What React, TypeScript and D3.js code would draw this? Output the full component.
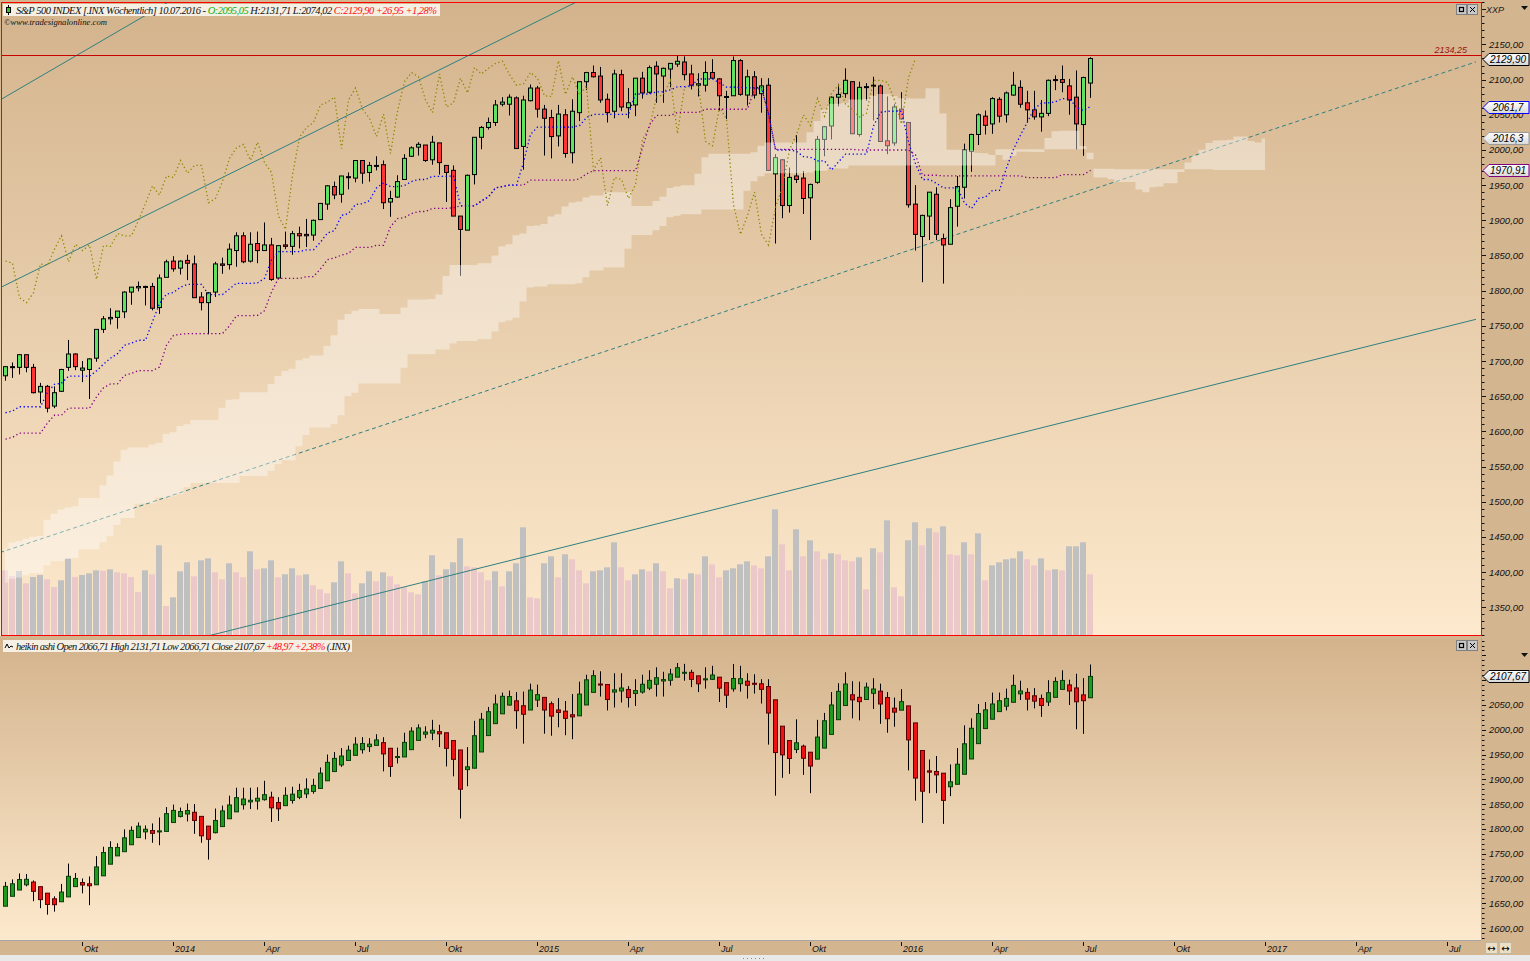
import React, { useMemo } from 'react';
import * as d3 from 'd3';

// weekly bars, bar 0 = week ending Sun 21.07.2013
const FIRST_WEEK = new Date(2013, 6, 21);

const opens = [
  1679, 1692, 1691, 1709, 1691, 1656, 1664, 1636, 1657, 1691, 1710, 1687, 1688, 1704, 1745, 1760, 1762, 1770, 1798, 1804,
  1806, 1806, 1776, 1819, 1842, 1832, 1843, 1838, 1791, 1783, 1798, 1838, 1837, 1857, 1878, 1842, 1867, 1857, 1865, 1818,
  1865, 1863, 1881, 1880, 1879, 1901, 1923, 1948, 1937, 1962, 1960, 1985, 1968, 1978, 1979, 1926, 1933, 1958, 1991, 2004,
  2007, 1986, 2010, 1978, 1971, 1906, 1886, 1965, 2018, 2032, 2039, 2065, 2065, 2074, 2005, 2070, 2088, 2058, 2046, 2020,
  2050, 1996, 2053, 2097, 2110, 2105, 2072, 2055, 2107, 2060, 2064, 2102, 2082, 2119, 2105, 2115, 2122, 2125, 2108, 2092,
  2092, 2110, 2101, 2075, 2077, 2127, 2078, 2104, 2080, 2092, 1966, 1986, 1921, 1963, 1960, 1932, 1954, 2015, 2034, 2075,
  2080, 2097, 2022, 2089, 2091, 2091, 2013, 2010, 2058, 2039, 1923, 1877, 1906, 1937, 1874, 1866, 1920, 1947, 1998, 2022,
  2048, 2037, 2072, 2050, 2078, 2089, 2067, 2057, 2047, 2052, 2100, 2100, 2091, 2075, 2036.09, 2095.05,
];
const highs = [
  1693, 1698, 1710, 1709, 1696, 1669, 1666, 1664, 1689, 1730, 1711, 1700, 1704, 1745, 1764, 1775, 1771, 1799, 1805, 1813,
  1807, 1811, 1823, 1844, 1849, 1843, 1851, 1850, 1798, 1798, 1841, 1847, 1867, 1883, 1883, 1883, 1884, 1897, 1875, 1864,
  1884, 1885, 1891, 1902, 1901, 1924, 1950, 1955, 1963, 1968, 1985, 1985, 1983, 1991, 1985, 1942, 1964, 1994, 2005, 2011,
  2007, 2020, 2010, 1978, 1978, 1906, 1965, 2018, 2034, 2046, 2071, 2075, 2079, 2076, 2077, 2093, 2091, 2064, 2057, 2064,
  2058, 2072, 2097, 2111, 2120, 2118, 2080, 2114, 2114, 2088, 2102, 2111, 2120, 2126, 2117, 2123, 2134.7, 2133, 2121, 2109,
  2126, 2129, 2102, 2084, 2132.8, 2129, 2114, 2112, 2102, 2102, 1994, 1987, 1975, 2021, 1970, 1952, 2020, 2034, 2076, 2094,
  2116, 2098, 2097, 2095, 2104, 2093, 2076, 2065, 2082, 2039, 1950, 1908, 1940, 1947, 1881, 1930, 1963, 2009, 2023, 2052,
  2056, 2075, 2075, 2083, 2111, 2099, 2084, 2084, 2071, 2100, 2106, 2120, 2101, 2113, 2104.08, 2131.71,
];
const lows = [
  1672, 1676, 1681, 1684, 1654, 1640, 1627, 1633, 1656, 1686, 1687, 1670, 1646, 1699, 1740, 1752, 1746, 1761, 1780, 1799,
  1779, 1772, 1767, 1819, 1827, 1823, 1815, 1790, 1772, 1738, 1791, 1824, 1830, 1834, 1839, 1840, 1839, 1857, 1814, 1816,
  1859, 1851, 1860, 1862, 1871, 1901, 1915, 1930, 1925, 1944, 1954, 1952, 1955, 1971, 1916, 1905, 1932, 1958, 1990, 1992,
  1983, 1979, 1965, 1926, 1906, 1821, 1886, 1951, 2001, 2029, 2034, 2062, 2049, 2002, 1972, 2069, 2046, 1992, 1988, 2005,
  1989, 1981, 2041, 2085, 2103, 2067, 2039, 2045, 2055, 2045, 2048, 2073, 2080, 2067, 2067, 2089, 2118, 2099, 2086, 2076,
  2083, 2101, 2056, 2044, 2077, 2077, 2063, 2073, 2053, 1970, 1867, 1903, 1911, 1953, 1909, 1872, 1952, 1991, 2015, 2062,
  2074, 2023, 2019, 2070, 2042, 2012, 1994, 2006, 2043, 1918, 1857, 1812, 1872, 1872, 1810.1, 1866, 1891, 1931, 1969, 2007,
  2022, 2023, 2039, 2039, 2077, 2060, 2039, 2043, 2026, 2048, 2085, 2082, 2050, 2001, 1991.68, 2074.02,
];
const closes = [
  1692, 1691, 1709, 1691, 1655, 1664, 1633, 1655, 1688, 1710, 1692, 1690, 1703, 1745, 1760, 1762, 1771, 1798, 1805, 1806,
  1805, 1775, 1818, 1841, 1831, 1842, 1839, 1790, 1783, 1797, 1838, 1836, 1859, 1878, 1841, 1866, 1857, 1865, 1816, 1864,
  1863, 1881, 1878, 1878, 1900, 1924, 1949, 1936, 1963, 1961, 1985, 1967, 1978, 1978, 1925, 1931, 1955, 1988, 2003, 2008,
  1985, 2011, 1982, 1968, 1906, 1887, 1964, 2018, 2032, 2039, 2064, 2068, 2075, 2002, 2071, 2088, 2058, 2045, 2019, 2051,
  1995, 2055, 2097, 2110, 2104, 2071, 2053, 2108, 2061, 2067, 2102, 2081, 2117, 2108, 2116, 2123, 2126, 2107, 2092, 2094,
  2110, 2102, 2077, 2076, 2127, 2079, 2104, 2078, 2091, 1971, 1989, 1921, 1961, 1958, 1931, 1951, 2015, 2033, 2075, 2079,
  2099, 2023, 2089, 2090, 2092, 2012, 2006, 2061, 2044, 1922, 1880, 1907, 1940, 1880, 1865, 1918, 1948, 2000, 2022, 2050,
  2035, 2073, 2048, 2081, 2092, 2065, 2057, 2047, 2052, 2099, 2099, 2096, 2071, 2037, 2102.95, 2129.9,
];
// weekly volume, bn shares
const volumes = [
  12.94, 11.8, 12.8, 10.34, 11.6, 12.0, 11.14, 9.6, 10.94, 15.34, 11.6, 12.0, 12.34, 12.94, 12.86, 13.14, 12.54, 12.34, 11.6, 8.6,
  12.94, 12.14, 17.94, 5.8, 7.54, 12.74, 14.54, 11.74, 14.94, 15.34, 12.54, 11.14, 14.34, 12.54, 11.54, 16.74, 13.14, 13.34, 14.94, 11.54,
  12.14, 13.34, 11.94, 12.14, 9.94, 9.14, 8.34, 10.54, 14.74, 12.34, 8.34, 10.34, 12.74, 10.74, 12.54, 11.74, 10.14, 9.54, 8.54, 8.14,
  10.74, 15.94, 11.94, 13.14, 14.54, 19.34, 13.74, 13.54, 12.54, 10.94, 12.74, 9.74, 12.74, 14.34, 21.54, 7.54, 7.34, 14.34, 15.74, 11.54,
  16.14, 15.14, 12.94, 10.34, 12.74, 12.94, 13.54, 18.54, 13.54, 10.94, 12.14, 13.14, 12.74, 14.34, 12.74, 9.34, 11.34, 11.14, 12.34, 12.14,
  15.74, 14.14, 11.54, 12.94, 13.34, 14.14, 14.74, 13.94, 13.34, 15.74, 25.14, 18.14, 12.94, 21.14, 15.74, 18.94, 16.74, 15.14, 16.34, 16.14,
  14.94, 14.74, 15.54, 9.14, 17.34, 16.54, 22.94, 9.54, 7.74, 18.94, 22.54, 17.94, 21.34, 20.54, 21.74, 16.14, 15.94, 18.54, 16.14, 20.34,
  10.94, 13.94, 14.54, 15.14, 15.34, 16.74, 15.14, 13.94, 15.34, 12.94, 13.14, 12.94, 17.74, 17.74, 18.54, 12.14,
];
// 78 earlier weeks (20.01.2012 - 12.07.2013), only for the Ichimoku windows
const priorHighs = [
  1315, 1333, 1345, 1354, 1363, 1368, 1378, 1375, 1405, 1414, 1419, 1422, 1398, 1391, 1406, 1415, 1370, 1355, 1328, 1335,
  1335, 1343, 1364, 1363, 1374, 1357, 1380, 1391, 1394, 1406, 1418, 1426, 1413, 1438, 1474, 1465, 1456, 1470, 1464, 1464,
  1435, 1434, 1433, 1389, 1409, 1419, 1423, 1438, 1448, 1430, 1467, 1472, 1485, 1503, 1514, 1518, 1524, 1530, 1525, 1552,
  1564, 1558, 1570, 1573, 1597, 1593, 1585, 1618, 1635, 1667, 1687, 1674, 1646, 1654, 1654, 1620, 1632, 1680,
];
const priorLows = [
  1290, 1306, 1300, 1337, 1340, 1352, 1354, 1340, 1370, 1388, 1391, 1397, 1357, 1365, 1358, 1367, 1344, 1291, 1295, 1277,
  1267, 1307, 1324, 1309, 1348, 1325, 1345, 1329, 1354, 1390, 1400, 1397, 1397, 1404, 1429, 1455, 1430, 1440, 1425, 1426,
  1403, 1410, 1376, 1343, 1359, 1385, 1398, 1412, 1420, 1398, 1402, 1451, 1461, 1485, 1495, 1495, 1506, 1497, 1485, 1514,
  1550, 1538, 1547, 1539, 1548, 1536, 1553, 1576, 1606, 1625, 1635, 1630, 1598, 1604, 1577, 1560, 1601, 1624,
];

const upperLabels = d3.range(1350, 2151, 50);
const lowerLabels = d3.range(1600, 2051, 50);
const quarterNames: Record<number, string> = { 3: 'Apr', 6: 'Jul', 9: 'Okt' };

const headerParts: [string, string][] = [
  ['S&P 500 INDEX [.INX Wöchentlich] 10.07.2016 - ', '#111'],
  ['O:2095,05', '#10b010'],
  [' H:2131,71 L:2074,02 ', '#111'],
  ['C:2129,90 +26,95 +1,28%', '#ff1010'],
];
const haHeaderParts: [string, string][] = [
  ['heikin ashi Open 2066,71 High 2131,71 Low 2066,71 Close 2107,67 ', '#111'],
  ['+48,97 +2,38%', '#ff1010'],
  [' (.INX)', '#111'],
];
const upperTags = [
  { value: 2129.9, label: '2129,90', color: '#000' },
  { value: 2061.7, label: '2061,7', color: '#0000ff' },
  { value: 2016.3, label: '2016,3', color: '#9a9a9a' },
  { value: 1970.91, label: '1970,91', color: '#800080' },
];
const lowerTags = [{ value: 2107.67, label: '2107,67', color: '#000' }];
const resistance = { value: 2134.25, label: '2134,25' };
// trend lines: [bar index, price] anchors
const trendLines = [
  { a: [-0.714, 2071], b: [23.3, 2210], dash: '' },
  { a: [-0.714, 1804.1], b: [39, 2000], dash: '' },
  { a: [-0.714, 1427.8], b: [210.3, 2125.7], dash: '4 3' },
  { a: [29.29, 1310], b: [210.14, 1759.3], dash: '' },
];

const PR = 1481;
const U_TOP = 2, U_BOT = 636, L_TOP = 638, L_BOT = 940;
const SHIFT = 25;
const AXIS_FONT = "'Liberation Sans', Arial, sans-serif";
const fmt = (v: number, d = 2) => v.toFixed(d).replace('.', ',');

function Tag({ y, label, color }: { y: number; label: string; color: string }) {
  const x0 = 1483, x1 = 1529;
  return (
    <g>
      <path d={`M${x0},${y} L${x0 + 6},${y - 6} L${x1},${y - 6} L${x1},${y + 6} L${x0 + 6},${y + 6} Z`}
        fill="url(#tagGrad)" stroke={color} strokeWidth={1} />
      <text x={1508} y={y + 3.5} textAnchor="middle" fontFamily={AXIS_FONT} fontStyle="italic" fontSize={10} fill="#000">{label}</text>
    </g>
  );
}

function PanelButtons({ y }: { y: number }) {
  return (
    <g>
      <rect x={1456.5} y={y + 0.5} width={10} height={10} fill="#c9c9c9" stroke="#808080" />
      <rect x={1459.5} y={y + 3.5} width={4} height={4} fill="none" stroke="#000" strokeWidth={1.2} />
      <rect x={1467.5} y={y + 0.5} width={10} height={10} fill="#c9c9c9" stroke="#808080" />
      <path d={`M${1470},${y + 3} L${1475},${y + 8} M${1475},${y + 3} L${1470},${y + 8}`} stroke="#000" />
    </g>
  );
}

export default function App() {
  const n = closes.length;
  const x = d3.scaleLinear().domain([0, n - 1]).range([5, 5 + 7 * (n - 1)]);
  const yU = d3.scaleLinear().domain([1350, 2150]).range([607.3, 44.4]);
  const yL = d3.scaleLinear().domain([1600, 2100]).range([928, 680.2]);
  const yV = d3.scaleLinear().domain([0, 25]).range([635, 510]);

  const calc = useMemo(() => {
    const P = priorHighs.length;
    const allH = [...priorHighs, ...highs];
    const allL = [...priorLows, ...lows];
    const mid = (k: number, len: number) => {
      const s = Math.max(0, k - len + 1);
      return ((d3.max(allH.slice(s, k + 1)) as number) + (d3.min(allL.slice(s, k + 1)) as number)) / 2;
    };
    const tenkan = d3.range(n).map(i => mid(P + i, 9));
    const kijun = d3.range(n).map(i => mid(P + i, 26));
    const cloud = d3.range(n + SHIFT).map(j => {
      const k = P + j - SHIFT;
      return { j, a: (mid(k, 9) + mid(k, 26)) / 2, b: mid(k, 52) };
    });
    const chikou = d3.range(SHIFT, n).map(i => ({ j: i - SHIFT, v: closes[i] }));
    // heikin ashi, seeded from the week before the first bar
    const ha: { o: number; h: number; l: number; c: number }[] = [];
    for (let i = 0; i < n; i++) {
      const c = (opens[i] + highs[i] + lows[i] + closes[i]) / 4;
      const o = i === 0 ? (priorHighs[P - 1] + priorLows[P - 1]) / 2 - 8 : (ha[i - 1].o + ha[i - 1].c) / 2;
      ha.push({ o, c, h: Math.max(highs[i], o, c), l: Math.min(lows[i], o, c) });
    }
    // quarter ticks on the week-ending dates
    const ticks: { i: number; label: string }[] = [];
    for (let i = 1; i < 212; i++) {
      const d = d3.timeDay.offset(FIRST_WEEK, 7 * i);
      const p = d3.timeDay.offset(FIRST_WEEK, 7 * (i - 1));
      if (d.getMonth() !== p.getMonth() && d.getMonth() % 3 === 0) {
        ticks.push({ i, label: d.getMonth() === 0 ? String(d.getFullYear()) : quarterNames[d.getMonth()] });
      }
    }
    return { tenkan, kijun, cloud, chikou, ha, ticks };
  }, [n]);

  const cloudArea = d3.area<{ j: number; a: number; b: number }>()
    .x(d => x(d.j)).y0(d => yU(d.b)).y1(d => yU(d.a)).curve(d3.curveStep);
  const idxLine = d3.line<number>().x((_, i) => x(i) + 0.5);
  const tenkanPath = idxLine.y(v => yU(v))(calc.tenkan) || '';
  const kijunPath = idxLine.y(v => yU(v))(calc.kijun) || '';
  const chikouPath = d3.line<{ j: number; v: number }>().x(d => x(d.j) + 0.5).y(d => yU(d.v))(calc.chikou) || '';

  const trendSeg = (t: typeof trendLines[0]) => {
    const [i0, p0] = t.a, [i1, p1] = t.b;
    const xa = x(i0), ya = yU(p0), xb = x(i1), yb = yU(p1);
    const slope = (yb - ya) / (xb - xa);
    const xs = Math.max(0, xa), xe = 1476;
    return { x1: xs, y1: ya + slope * (xs - xa), x2: xe, y2: ya + slope * (xe - xa) };
  };

  const uTicks = d3.range(1310, 2211, 10);
  const lTicks = d3.range(1580, 2181, 10);
  const resY = Math.round(yU(resistance.value)) + 0.5;

  return (
    <svg width={1530} height={961} style={{ position: 'fixed', left: 0, top: 0, display: 'block' }}>
      <defs>
        <linearGradient id="bgU" x1="0" y1="0" x2="0" y2="1">
          <stop offset="0" stopColor="#d3b38c" />
          <stop offset="1" stopColor="#fde9cd" />
        </linearGradient>
        <linearGradient id="bgL" x1="0" y1="0" x2="0" y2="1">
          <stop offset="0" stopColor="#d3b38c" />
          <stop offset="1" stopColor="#fde9cd" />
        </linearGradient>
        <linearGradient id="tagGrad" x1="0" y1="0" x2="0" y2="1">
          <stop offset="0" stopColor="#ffffff" />
          <stop offset="1" stopColor="#d8d8d8" />
        </linearGradient>
        <clipPath id="clipU"><rect x={1} y={U_TOP} width={PR - 1} height={U_BOT - U_TOP} /></clipPath>
        <clipPath id="clipL"><rect x={0} y={L_TOP} width={PR} height={L_BOT - L_TOP} /></clipPath>
      </defs>

      <rect x={0} y={0} width={1530} height={961} fill="#d3b590" />
      <rect x={0} y={U_TOP} width={PR} height={U_BOT - U_TOP} fill="url(#bgU)" />
      <rect x={0} y={L_TOP} width={PR} height={L_BOT - L_TOP} fill="url(#bgL)" />

      {/* upper panel */}
      <g clipPath="url(#clipU)">
        {volumes.map((v, i) => (
          <rect key={'v' + i} x={x(i) - 3} y={yV(v)} width={6} height={yV(0) - yV(v)}
            fill={i > 0 && v >= volumes[i - 1] ? '#c0c0c0' : '#ecc9c9'} />
        ))}
        {trendLines.map((t, k) => {
          const s = trendSeg(t);
          return <line key={'t' + k} {...s} stroke="#2f8080" strokeWidth={1} strokeDasharray={t.dash || undefined} />;
        })}
        {closes.map((c, i) => {
          const cx = x(i) + 0.5;
          const o = opens[i];
          const top = yU(Math.max(o, c)), bot = yU(Math.min(o, c));
          return (
            <g key={'c' + i}>
              <line x1={cx} x2={cx} y1={yU(highs[i])} y2={yU(lows[i])} stroke="#000" strokeWidth={1} />
              <rect x={cx - 2} y={top} width={4} height={Math.max(1, bot - top)}
                fill={c >= o ? '#5ee35e' : '#ff3535'} stroke="#000" strokeWidth={1} />
            </g>
          );
        })}
        <path d={cloudArea(calc.cloud) || ''} fill="#ffffff" fillOpacity={0.4} />
        <path d={chikouPath} fill="none" stroke="#8a8a00" strokeWidth={1.3} strokeDasharray="1.3 2.6" />
        <path d={kijunPath} fill="none" stroke="#800080" strokeWidth={1.3} strokeDasharray="1.3 2.6" />
        <path d={tenkanPath} fill="none" stroke="#0000ff" strokeWidth={1.3} strokeDasharray="1.3 2.6" />
        <line x1={0} x2={PR} y1={resY} y2={resY} stroke="#c80000" strokeWidth={1} />
        <text x={1467} y={resY - 3} textAnchor="end" fontFamily={AXIS_FONT} fontStyle="italic" fontSize={9} fill="#9a1010">{resistance.label}</text>
      </g>
      <rect x={1.5} y={U_TOP + 0.5} width={PR - 1} height={U_BOT - U_TOP - 1} fill="none" stroke="#ff0000" strokeWidth={1} />

      {/* upper header */}
      <rect x={3} y={4} width={437} height={12} fill="#f6efe3" />
      <line x1={8.5} x2={8.5} y1={5} y2={15} stroke="#000" />
      <rect x={6.5} y={7.5} width={4} height={5} fill="#30c030" stroke="#000" />
      <text x={16} y={13.5} fontFamily="'Liberation Serif', serif" fontStyle="italic" fontSize={10.5} textLength={421} lengthAdjust="spacing">
        {headerParts.map(([t, c], k) => <tspan key={k} fill={c}>{t}</tspan>)}
      </text>
      <text x={4} y={25} fontFamily="'Liberation Serif', serif" fontStyle="italic" fontSize={8.5} fill="#111" textLength={103} lengthAdjust="spacingAndGlyphs">©www.tradesignalonline.com</text>
      <PanelButtons y={4} />
      <text x={1486} y={13} fontFamily={AXIS_FONT} fontStyle="italic" fontSize={9} fill="#222">XXP</text>
      <path d="M1521,6 L1528,6 L1524.5,10 Z" fill="#111" />

      {/* upper axis */}
      {uTicks.map(v => (
        <line key={'ut' + v} x1={1482} x2={v % 50 === 0 ? 1486 : 1484.5} y1={Math.round(yU(v)) + 0.5} y2={Math.round(yU(v)) + 0.5} stroke="#111" />
      ))}
      {upperLabels.map(v => (
        <text key={'ul' + v} x={1489} y={yU(v) + 3.5} fontFamily={AXIS_FONT} fontStyle="italic" fontSize={9.5} fill="#111">{fmt(v)}</text>
      ))}
      {upperTags.map(t => <Tag key={t.label} y={Math.round(yU(t.value)) + 0.5} label={t.label} color={t.color} />)}

      {/* lower panel: heikin ashi */}
      <g clipPath="url(#clipL)">
        {calc.ha.map((d, i) => {
          const cx = x(i) + 0.5;
          const top = yL(Math.max(d.o, d.c)), bot = yL(Math.min(d.o, d.c));
          return (
            <g key={'h' + i}>
              <line x1={cx} x2={cx} y1={yL(d.h)} y2={yL(d.l)} stroke="#000" strokeWidth={1} />
              <rect x={cx - 2} y={top} width={4} height={Math.max(1, bot - top)}
                fill={d.c >= d.o ? '#1f9a1f' : '#ee1111'} stroke={d.c >= d.o ? '#0c3d0c' : '#5a0000'} strokeWidth={1} />
            </g>
          );
        })}
      </g>
      <line x1={PR + 0.5} x2={PR + 0.5} y1={L_TOP} y2={L_BOT} stroke="#a5a5a5" />
      <line x1={0} x2={PR} y1={L_BOT + 0.5} y2={L_BOT + 0.5} stroke="#a5a5a5" />
      <rect x={3} y={640} width={349} height={12} fill="#f6efe3" />
      <path d="M5,648 L7,644 L9,648 L11,646 L13,647" fill="none" stroke="#000" />
      <text x={16} y={649.5} fontFamily="'Liberation Serif', serif" fontStyle="italic" fontSize={10.5} textLength={334} lengthAdjust="spacing">
        {haHeaderParts.map(([t, c], k) => <tspan key={k} fill={c}>{t}</tspan>)}
      </text>
      <PanelButtons y={640} />
      <path d="M1521,653 L1528,653 L1524.5,657 Z" fill="#111" />
      {lTicks.map(v => (
        <line key={'lt' + v} x1={1482} x2={v % 50 === 0 ? 1486 : 1484.5} y1={Math.round(yL(v)) + 0.5} y2={Math.round(yL(v)) + 0.5} stroke="#111" />
      ))}
      {lowerLabels.map(v => (
        <text key={'ll' + v} x={1489} y={yL(v) + 3.5} fontFamily={AXIS_FONT} fontStyle="italic" fontSize={9.5} fill="#111">{fmt(v)}</text>
      ))}
      {lowerTags.map(t => <Tag key={t.label} y={Math.round(yL(t.value)) + 0.5} label={t.label} color={t.color} />)}

      {/* time axis */}
      {calc.ticks.map(t => (
        <g key={'x' + t.i}>
          <line x1={x(t.i) + 0.5} x2={x(t.i) + 0.5} y1={942} y2={946} stroke="#111" />
          <text x={x(t.i) + 2} y={952} fontFamily={AXIS_FONT} fontStyle="italic" fontSize={9} fill="#111">{t.label}</text>
        </g>
      ))}
      <rect x={1485.5} y={942.5} width={12} height={11} fill="#ecdfc8" stroke="#bba" />
      <rect x={1499.5} y={942.5} width={12} height={11} fill="#ecdfc8" stroke="#bba" />
      <text x={1491.5} y={951.5} textAnchor="middle" fontSize={10} fontFamily="'DejaVu Sans', sans-serif" fill="#000">↔</text>
      <text x={1505.5} y={951.5} textAnchor="middle" fontSize={10} fontFamily="'DejaVu Sans', sans-serif" fill="#000">↔</text>
      <rect x={0} y={955} width={1530} height={6} fill="#e9e9e9" />
      {d3.range(6).map(k => <rect key={'g' + k} x={743 + k * 4} y={958} width={1} height={1} fill="#888" />)}
    </svg>
  );
}
